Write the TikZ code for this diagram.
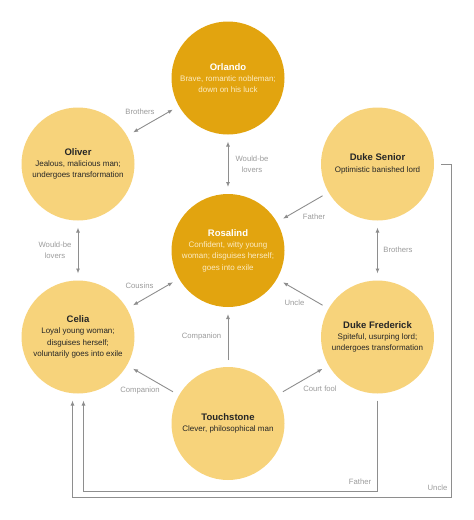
\documentclass[tikz,border=0pt]{standalone}
\usepackage{fontspec}
\setmainfont{Liberation Sans}
\usetikzlibrary{arrows.meta,positioning}
\definecolor{darkgold}{HTML}{E2A40F}
\definecolor{lightgold}{HTML}{F7D37B}
\definecolor{linkgray}{HTML}{8E8E8E}
\definecolor{labelgray}{HTML}{9B9B9B}
\definecolor{palecream}{HTML}{FCEBC2}
\newcommand{\rolename}[1]{{\fontsize{9.5}{12}\selectfont\bfseries #1}}

\begin{document}
\begin{tikzpicture}[x=1pt,y=-1pt,>={Latex[length=5pt,width=4pt]},
  person/.style={circle,fill=lightgold,minimum size=113pt,inner sep=0pt,outer sep=7pt,align=center,text=black!85,font=\fontsize{8}{11.3}\selectfont},
  lead/.style={person,fill=darkgold,text=palecream},
  link/.style={draw=linkgray,line width=0.9pt},
  lbl/.style={text=labelgray,inner sep=0pt,align=center,font=\fontsize{7.7}{11.5}\selectfont}]
\useasboundingbox (0,0) rectangle (474,520);
\node[lead] (orlando) at (228,78) {\textcolor{white}{\rolename{Orlando}}\\Brave, romantic nobleman;\\down on his luck};
\node[person] (oliver) at (78,164) {\rolename{Oliver}\\Jealous, malicious man;\\undergoes transformation};
\node[person] (senior) at (377.5,164) {\rolename{Duke Senior}\\Optimistic banished lord};
\node[lead] (rosalind) at (228,250.5) {\textcolor{white}{\rolename{Rosalind}}\\Confident, witty young\\woman; disguises herself;\\goes into exile};
\node[person] (celia) at (78,337) {\rolename{Celia}\\Loyal young woman;\\disguises herself;\\voluntarily goes into exile};
\node[person] (frederick) at (377.5,337) {\rolename{Duke Frederick}\\Spiteful, usurping lord;\\undergoes transformation};
\node[person] (touchstone) at (228,423.5) {\rolename{Touchstone}\\Clever, philosophical man};
% links between the characters
\draw[link,<->] (oliver) -- (orlando);
\draw[link,<->] (orlando) -- (rosalind);
\draw[link,->] (senior) -- (rosalind);
\draw[link,<->] (oliver) -- (celia);
\draw[link,<->] (senior) -- (frederick);
\draw[link,<->] (celia) -- (rosalind);
\draw[link,->] (frederick) -- (rosalind);
\draw[link,->] (touchstone) -- (rosalind);
\draw[link,->] (touchstone) -- (celia);
\draw[link,->] (touchstone) -- (frederick);
\draw[link,->] (frederick.south) -- ++(0,90.5) -| ([xshift=5.5pt]celia.south);
\draw[link,->] (senior.east) -- ++(10,0) -- ++(0,333) -| ([xshift=-5.5pt]celia.south);
\node[lbl] (brolabel) at (140,112) {Brothers};
\node[lbl] (loverlabel) at (252,164) {Would-be\\lovers};
\node[lbl] (fatherlabel) at (314,216.5) {Father};
\node[lbl] (loverlabel2) at (55,250) {Would-be\\lovers};
\node[lbl] (brolabel2) at (398,250) {Brothers};
\node[lbl] (cousinlabel) at (139.5,285.5) {Cousins};
\node[lbl] (unclelabel) at (294.5,302.5) {Uncle};
\node[lbl] (complabel) at (201.5,337) {Companion};
\node[lbl] (complabel2) at (140,391) {Companion};
\node[lbl] (foollabel) at (320,389) {Court fool};
\node[lbl] (fatherlabel2) at (360,482) {Father};
\node[lbl] (unclelabel2) at (437.5,488) {Uncle};
\end{tikzpicture}
\end{document}
